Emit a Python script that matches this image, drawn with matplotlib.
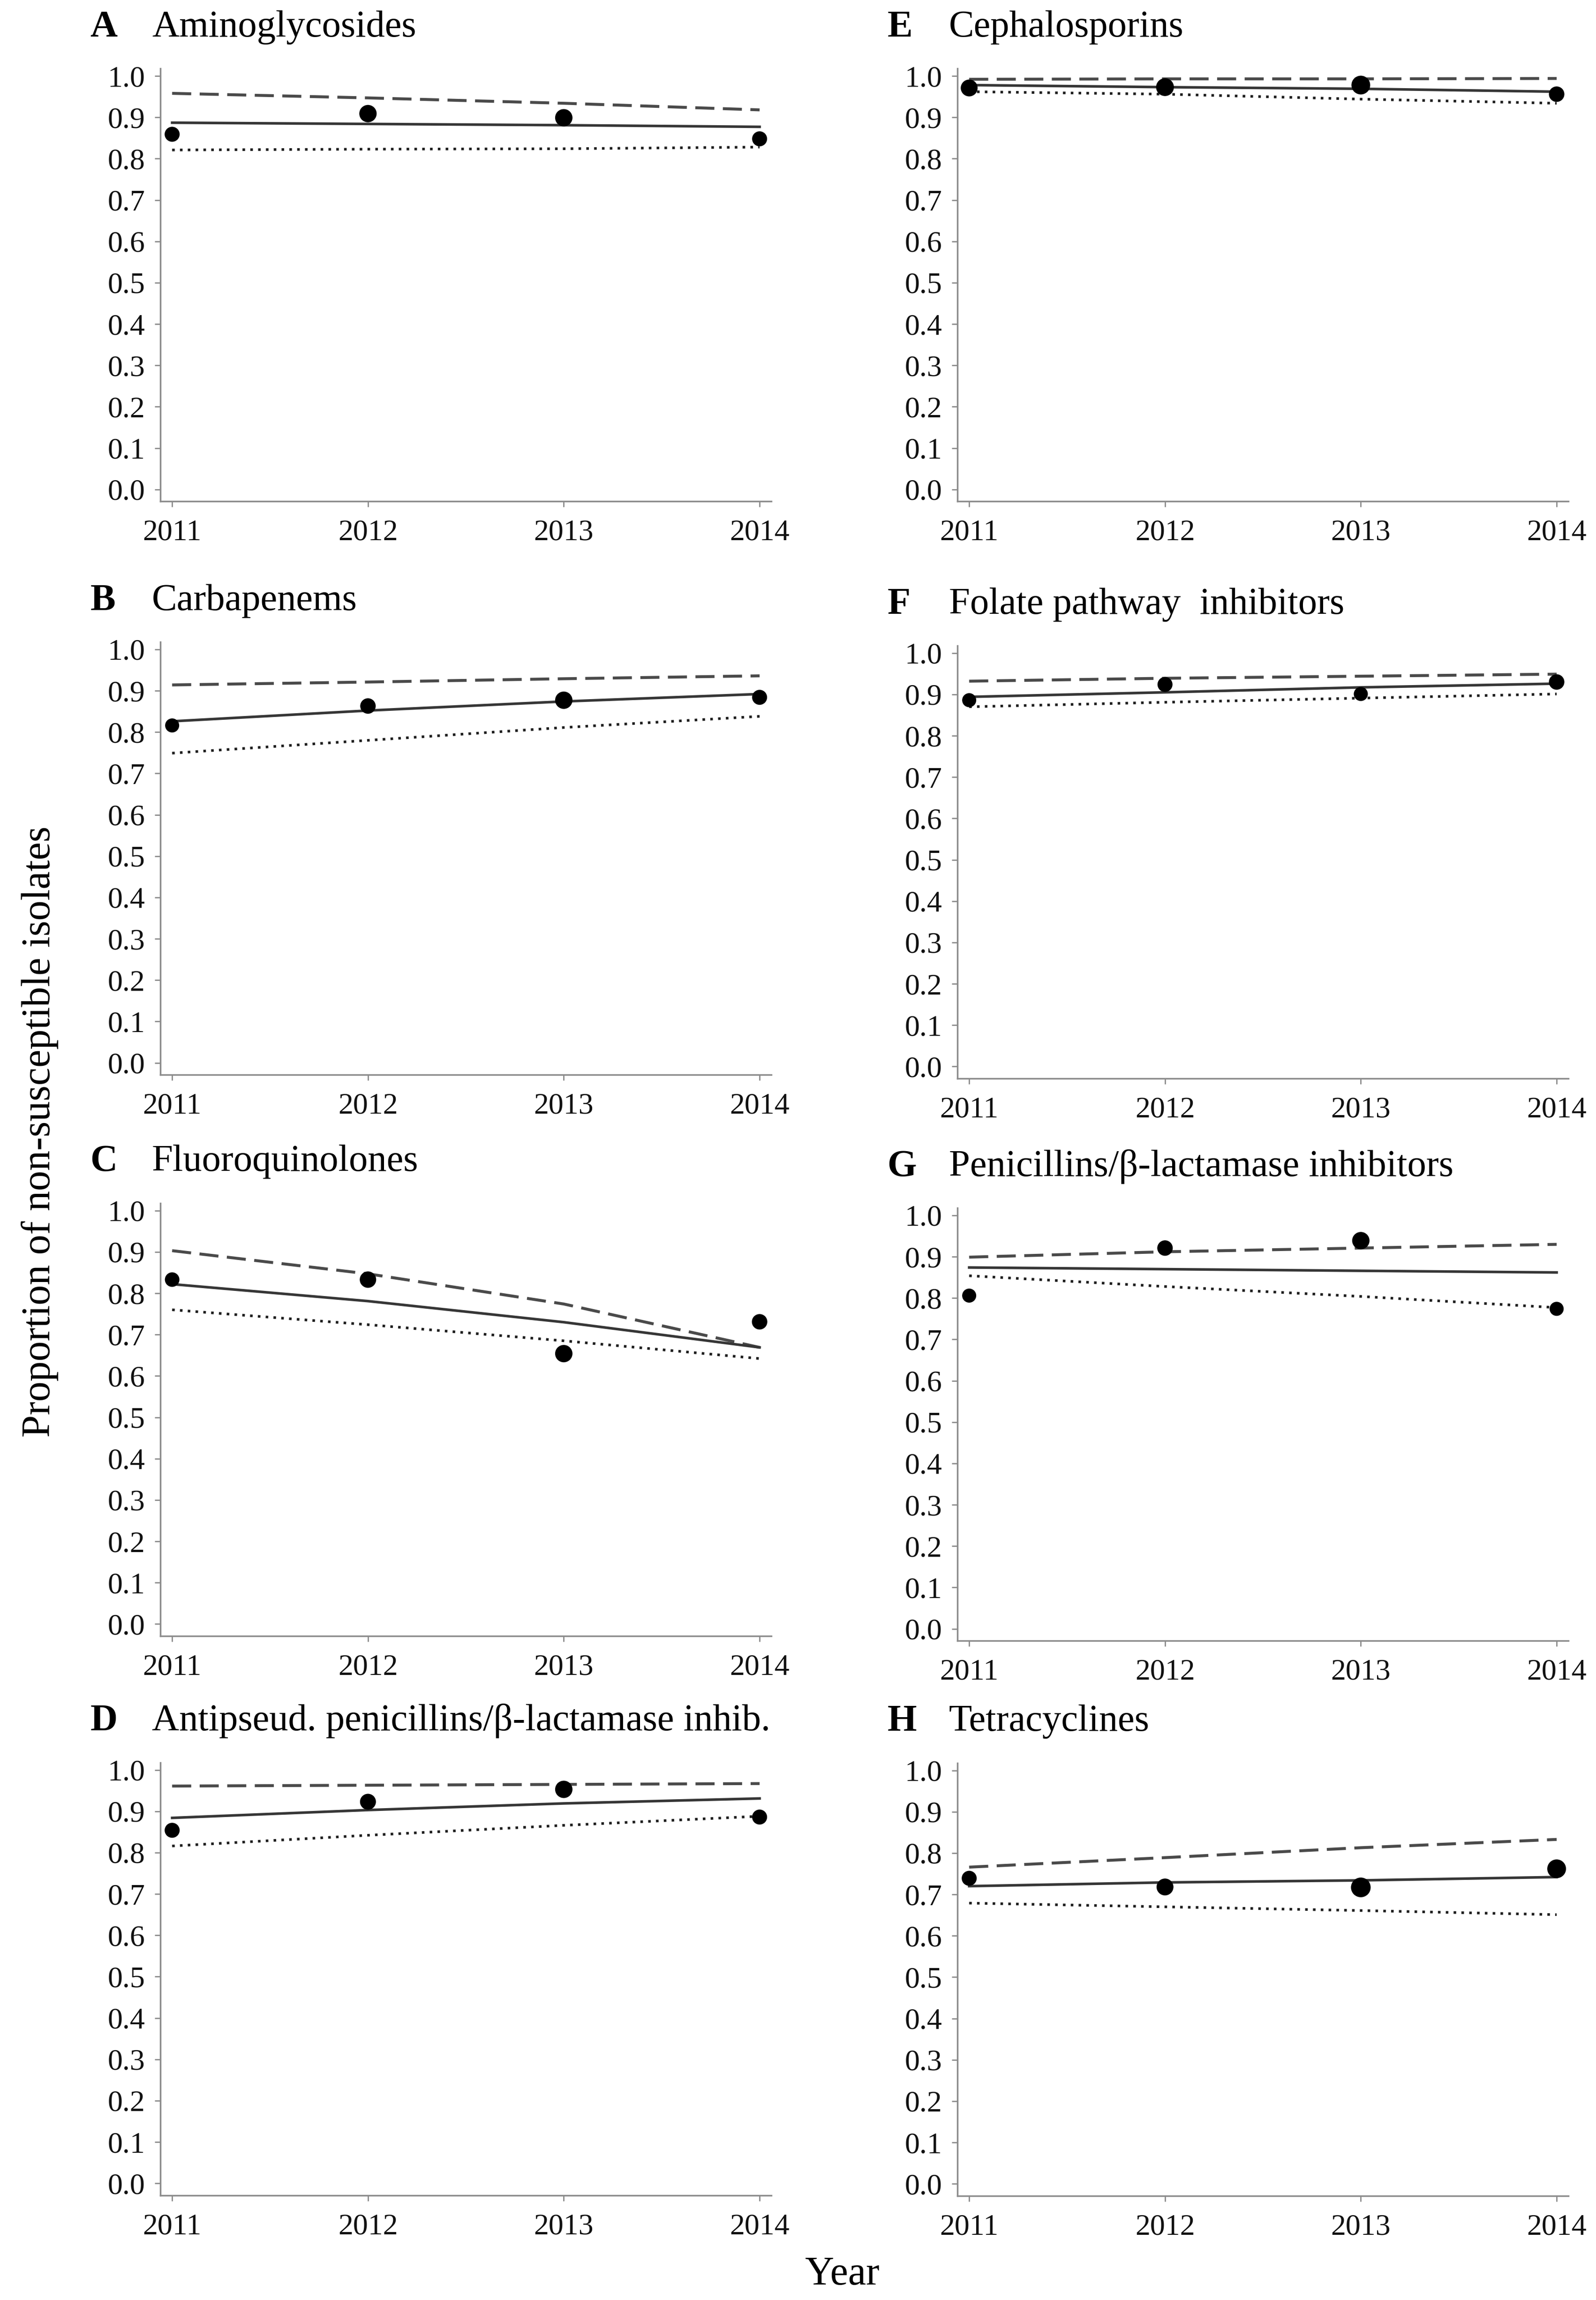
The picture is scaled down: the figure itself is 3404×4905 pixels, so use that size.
################################################################################
# Proportion of non-susceptible isolates by antibiotic class, 2011-2014
################################################################################
import numpy as np
import matplotlib.pyplot as plt
import matplotlib as mpl

# %%
# Data
years = [2011, 2012, 2013, 2014]
yticks = [0.0, 0.1, 0.2, 0.3, 0.4, 0.5, 0.6, 0.7, 0.8, 0.9, 1.0]

obsA = [0.859, 0.909, 0.899, 0.848]
fitA = [0.887, 0.884, 0.881, 0.877]
upA = [0.958, 0.947, 0.934, 0.918]
loA = [0.821, 0.823, 0.824, 0.828]

obsB = [0.816, 0.863, 0.877, 0.884]
fitB = [0.826, 0.852, 0.874, 0.892]
upB = [0.914, 0.921, 0.929, 0.936]
loB = [0.749, 0.780, 0.811, 0.838]

obsC = [0.833, 0.833, 0.654, 0.731]
fitC = [0.822, 0.781, 0.730, 0.669]
upC = [0.903, 0.847, 0.774, 0.669]
loC = [0.760, 0.724, 0.685, 0.642]

obsD = [0.854, 0.923, 0.953, 0.886]
fitD = [0.884, 0.903, 0.919, 0.931]
upD = [0.961, 0.963, 0.965, 0.967]
loD = [0.816, 0.842, 0.866, 0.888]

obsE = [0.971, 0.973, 0.978, 0.956]
fitE = [0.978, 0.973, 0.969, 0.962]
upE = [0.992, 0.993, 0.993, 0.994]
loE = [0.962, 0.956, 0.944, 0.934]

obsF = [0.886, 0.924, 0.901, 0.930]
fitF = [0.894, 0.905, 0.917, 0.926]
upF = [0.932, 0.939, 0.944, 0.949]
loF = [0.870, 0.881, 0.891, 0.901]

obsG = [0.806, 0.921, 0.939, 0.774]
fitG = [0.874, 0.870, 0.866, 0.862]
upG = [0.899, 0.912, 0.921, 0.930]
loG = [0.854, 0.828, 0.804, 0.777]

obsH = [0.739, 0.718, 0.717, 0.762]
fitH = [0.720, 0.729, 0.734, 0.742]
upH = [0.766, 0.789, 0.813, 0.833]
loH = [0.679, 0.670, 0.661, 0.651]

titles = ['Aminoglycosides', 'Carbapenems', 'Fluoroquinolones',
          'Antipseud. penicillins/\u03b2-lactamase inhib.',
          'Cephalosporins', 'Folate pathway  inhibitors',
          'Penicillins/\u03b2-lactamase inhibitors', 'Tetracyclines']
letters = ['A', 'B', 'C', 'D', 'E', 'F', 'G', 'H']

################################################################################
# %%
# Style
plt.rc('font', family='serif')
plt.rc('font', serif='Liberation Serif')
mpl.rcParams['mathtext.fontset'] = 'custom'

fsize = 62      # axis titles
tsize = 58      # panel titles
ksize = 46      # tick labels
px = 72 / 100   # points per pixel at dpi 100

# marker diameters (px), varying with point weight in the original
msizes = [[32, 37, 37, 32], [30, 33, 37, 32], [31, 35, 37, 33], [32, 34, 37, 32],
          [36, 38, 40, 33], [30, 32, 30, 33], [30, 33, 37, 30], [32, 36, 42, 40]]

# axes rectangles (fig fraction)
lx, rx, w, h = 0.1005, 0.5999, 0.3828, 0.1882
rects = [[lx, 0.7820, w, h], [lx, 0.5327, w, h], [lx, 0.2887, w, h], [lx, 0.0455, w, h],
         [rx, 0.7820, w, h], [rx, 0.5311, w, h], [rx, 0.2866, w, h], [rx, 0.0453, w, h]]

series = [(obsA, fitA, upA, loA), (obsB, fitB, upB, loB),
          (obsC, fitC, upC, loC), (obsD, fitD, upD, loD),
          (obsE, fitE, upE, loE), (obsF, fitF, upF, loF),
          (obsG, fitG, upG, loG), (obsH, fitH, upH, loH)]

# %%
fig = plt.figure(figsize=(34.04, 49.05), dpi=100)

for i in range(8):
    obs, fit, up, lo = series[i]
    ax = fig.add_axes(rects[i])
    ax.plot(years, up, '--', color='#4a4a4a', linewidth=4.5, dashes=(6.5, 2.9))
    ax.plot(years, fit, '-', color='#363636', linewidth=4.0)
    ax.plot(years, lo, ':', color='#1e1e1e', linewidth=4.0, dashes=(1.0, 2.0))
    ax.scatter(years, obs, s=(np.array(msizes[i]) * px) ** 2, color='black',
               zorder=5, linewidths=0)

    ax.set_xlim(2010.94, 2014.06)
    ax.set_ylim(-0.029, 1.018)
    ax.set_xticks(years)
    ax.set_xticklabels([str(y) for y in years])
    ax.set_yticks(yticks)
    ax.set_yticklabels(['%.1f' % t for t in yticks])
    for s in ['top', 'right']:
        ax.spines[s].set_visible(False)
    for s in ['left', 'bottom']:
        ax.spines[s].set_color('#8c8c8c')
        ax.spines[s].set_linewidth(2.5)
    ax.tick_params(axis='both', direction='out', length=8.6, width=2.0,
                   color='#8c8c8c', labelsize=ksize, labelcolor='#111111')
    ax.tick_params(axis='x', pad=19)
    ax.tick_params(axis='y', pad=15)

    ax.text(-0.115, 1.074, letters[i], transform=ax.transAxes, fontsize=tsize,
            fontweight='bold', ha='left', va='baseline')
    ax.text(-0.014, 1.074, titles[i], transform=ax.transAxes, fontsize=tsize,
            ha='left', va='baseline')

fig.text(0.025, 0.508, 'Proportion of non-susceptible isolates', rotation=90,
         fontsize=fsize, ha='center', va='center')
fig.text(0.5277, 0.011, 'Year', fontsize=fsize, ha='center', va='center')

# Save figure
plt.savefig('out.png', dpi=100)
plt.close()
